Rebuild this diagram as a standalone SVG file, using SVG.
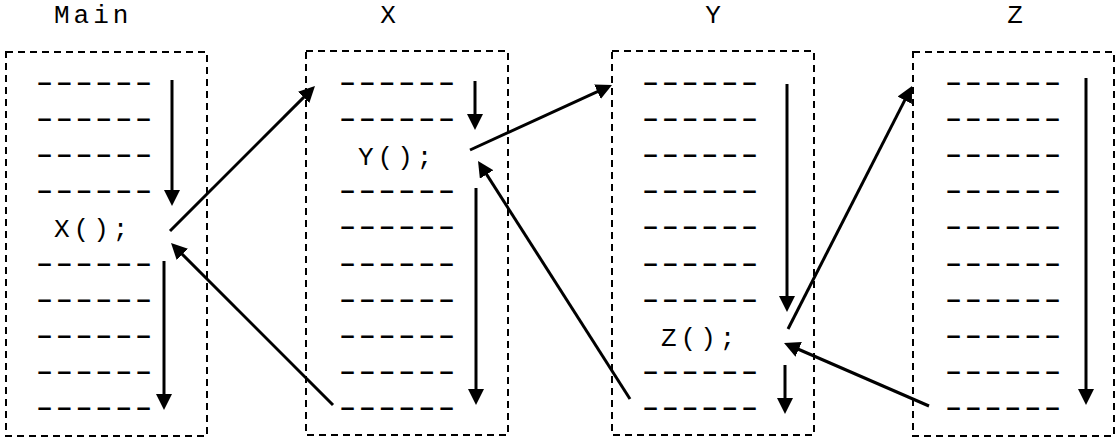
<svg xmlns="http://www.w3.org/2000/svg" width="1120" height="441" viewBox="0 0 1120 441">
<style>
.t{font-family:"Liberation Mono","Courier New",monospace;font-size:26px;letter-spacing:4px;fill:#000}
.ttl{text-anchor:middle}
.d{font-family:"Liberation Mono","Courier New",monospace;font-size:33px;letter-spacing:-5.35px;fill:#000}
.box{fill:none;stroke:#000;stroke-width:2;stroke-dasharray:7 5}
.c line{stroke:#000;stroke-width:3;marker-end:url(#ah)}
</style>
<defs>
<marker id="ah" viewBox="0 0 16 16" refX="6" refY="8" markerWidth="16" markerHeight="16" markerUnits="userSpaceOnUse" orient="auto">
<path d="M0,0 L16,8 L0,16 z" fill="#000"/>
</marker>
</defs>
<rect width="1120" height="441" fill="#fff"/>
<g id="main">
<text class="t" x="54" y="23">Main</text>
<rect class="box" x="6" y="52" width="201" height="384"/>
<g transform="translate(31,0) scale(1.37,1)">
<text class="d" x="0" y="93">------</text>
<text class="d" x="0" y="129">------</text>
<text class="d" x="0" y="165">------</text>
<text class="d" x="0" y="201">------</text>
<text class="d" x="0" y="274">------</text>
<text class="d" x="0" y="310">------</text>
<text class="d" x="0" y="346">------</text>
<text class="d" x="0" y="382">------</text>
<text class="d" x="0" y="418">------</text>
</g>
<text class="t" x="54" y="237">X();</text>
</g>
<g id="x">
<text class="t ttl" x="390" y="23">X</text>
<rect class="box" x="306" y="51" width="202" height="384"/>
<g transform="translate(334,0) scale(1.37,1)">
<text class="d" x="0" y="93">------</text>
<text class="d" x="0" y="129">------</text>
<text class="d" x="0" y="201">------</text>
<text class="d" x="0" y="237">------</text>
<text class="d" x="0" y="274">------</text>
<text class="d" x="0" y="310">------</text>
<text class="d" x="0" y="346">------</text>
<text class="d" x="0" y="382">------</text>
<text class="d" x="0" y="418">------</text>
</g>
<text class="t" x="358" y="165">Y();</text>
</g>
<g id="y">
<text class="t ttl" x="715" y="23">Y</text>
<rect class="box" x="612" y="51" width="202" height="384"/>
<g transform="translate(637,0) scale(1.37,1)">
<text class="d" x="0" y="93">------</text>
<text class="d" x="0" y="129">------</text>
<text class="d" x="0" y="165">------</text>
<text class="d" x="0" y="201">------</text>
<text class="d" x="0" y="237">------</text>
<text class="d" x="0" y="274">------</text>
<text class="d" x="0" y="310">------</text>
<text class="d" x="0" y="382">------</text>
<text class="d" x="0" y="418">------</text>
</g>
<text class="t" x="661" y="346">Z();</text>
</g>
<g id="z">
<text class="t ttl" x="1017" y="23">Z</text>
<rect class="box" x="913" y="52" width="201" height="384"/>
<g transform="translate(940,0) scale(1.37,1)">
<text class="d" x="0" y="93">------</text>
<text class="d" x="0" y="129">------</text>
<text class="d" x="0" y="165">------</text>
<text class="d" x="0" y="201">------</text>
<text class="d" x="0" y="237">------</text>
<text class="d" x="0" y="274">------</text>
<text class="d" x="0" y="310">------</text>
<text class="d" x="0" y="346">------</text>
<text class="d" x="0" y="382">------</text>
<text class="d" x="0" y="418">------</text>
</g>
</g>
<g id="connectors" class="c">
<line x1="172" y1="80" x2="172" y2="196"/>
<line x1="164" y1="261" x2="164" y2="400"/>
<line x1="170" y1="231" x2="307.9" y2="93.1"/>
<line x1="333" y1="405" x2="178.1" y2="250.1"/>
<line x1="475" y1="81" x2="475" y2="120"/>
<line x1="476" y1="188" x2="476" y2="395"/>
<line x1="470" y1="150" x2="602.9" y2="89.2"/>
<line x1="630" y1="399" x2="483.4" y2="169.4"/>
<line x1="787" y1="84" x2="787" y2="302"/>
<line x1="785" y1="365" x2="785" y2="404"/>
<line x1="788" y1="329" x2="907.5" y2="94.9"/>
<line x1="929" y1="406" x2="793.2" y2="347"/>
<line x1="1086" y1="78" x2="1086" y2="395"/>
</g>
</svg>
